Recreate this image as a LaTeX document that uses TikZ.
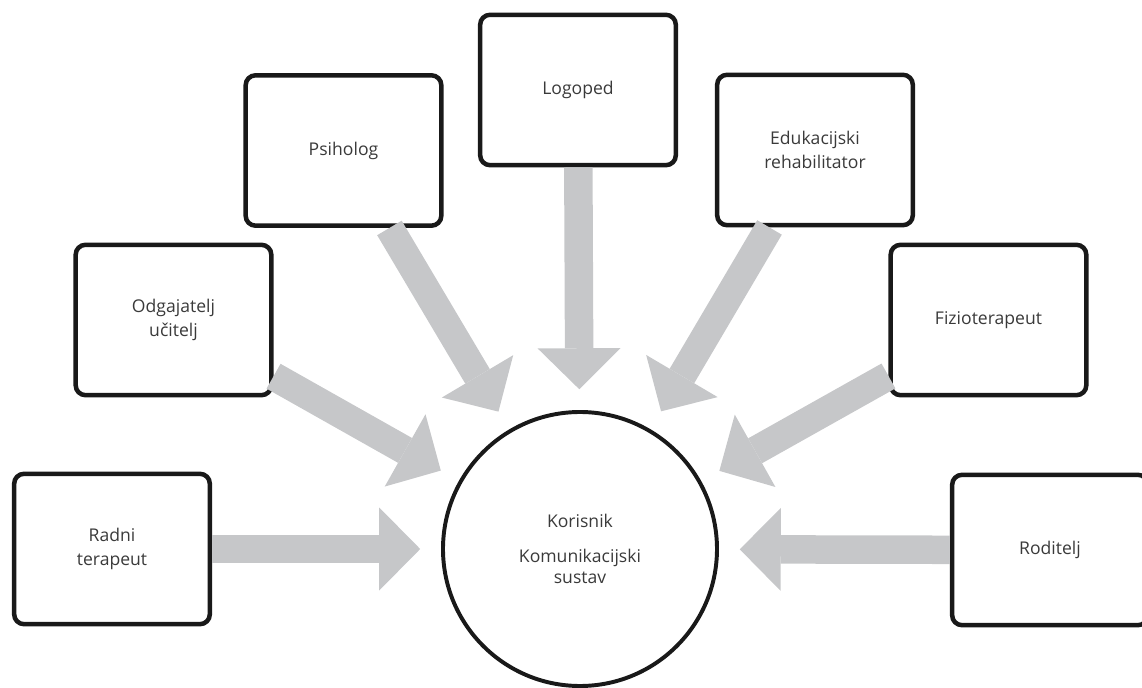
\documentclass[tikz,border=0pt]{standalone}
\usepackage{fontspec}
\setsansfont{Open Sans}
\usepackage{xcolor}
\usepackage{tikz}
\usetikzlibrary{arrows.meta}

\definecolor{arrowgray}{HTML}{C6C7C9}
\definecolor{textgray}{HTML}{3A3A3A}

\begin{document}
\begin{tikzpicture}[
    font=\sffamily\fontsize{12.5}{17.5}\selectfont,
    role/.style={
        draw=black!90,
        line width=3.2pt,
        rounded corners=7pt,
        minimum width=4.89cm,
        minimum height=3.76cm,
        align=center,
        text=textgray
    },
    user/.style={
        circle,
        draw=black!90,
        line width=2.8pt,
        minimum size=6.85cm,
        inner sep=0pt,
        align=center,
        text=textgray
    },
    conn/.style={
        draw=arrowgray,
        line width=0.7125cm,
        shorten >=0.52cm,
        -{Triangle[length=1.025cm, width=2.075cm, line width=0pt]}
    }
]

\useasboundingbox (-14.5,-3.45) rectangle (14.05,13.725);

% --- Centre
\node[user] (user) at (0,0) {Korisnik\\[7pt]
Komunikacijski\\[-2.5pt] sustav};

% --- Left
\node[role] (radni) at (-11.7,0) {Radni\\terapeut};
\node[role] (odgajatelj) at (-10.1625,5.725) {Odgajatelj\\učitelj};
\node[role] (psiholog) at (-5.9125,9.9625) {Psiholog};

% --- Top
\node[role] (logoped) at (-0.05,11.475) {Logoped};

% --- Right
\node[role] (edukacijski) at (5.875,9.975) {Edukacijski\\rehabilitator};
\node[role] (fizio) at (10.2125,5.725) {Fizioterapeut};
\node[role] (roditelj) at (11.75,-0.025) {Roditelj};

% --- Arrows
\draw[conn] (radni) -- (user);
\draw[conn] (odgajatelj) -- (user);
\draw[conn] (psiholog) -- (user);
\draw[conn] (logoped) -- (user);
\draw[conn] (edukacijski) -- (user);
\draw[conn] (fizio) -- (user);
\draw[conn] (roditelj) -- (user);

\end{tikzpicture}
\end{document}
